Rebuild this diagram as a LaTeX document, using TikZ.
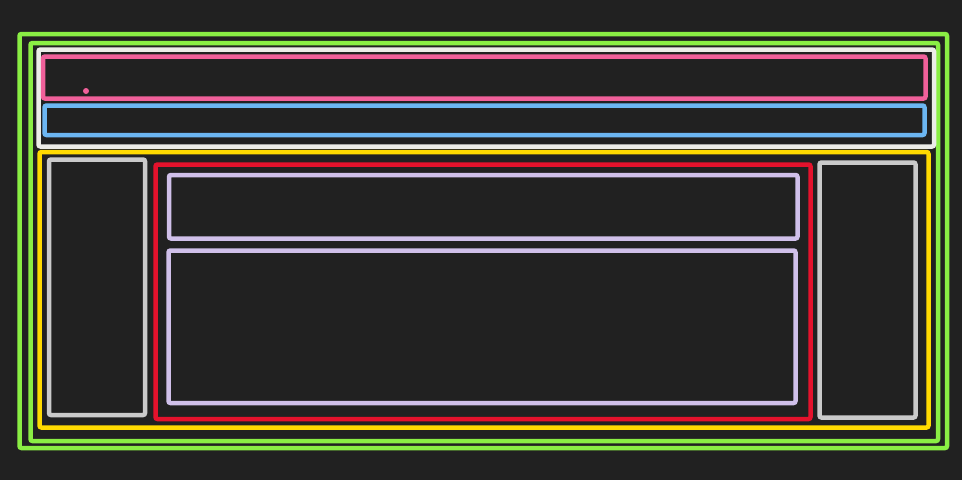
\documentclass[tikz,border=0pt]{standalone}
\usepackage{xcolor}
\usepackage{tikz}
\usetikzlibrary{positioning}
\definecolor{canvas}{HTML}{212121}
\definecolor{lime}{HTML}{8AEE44}
\definecolor{chalk}{HTML}{ECECE8}
\definecolor{rose}{HTML}{F0609A}
\definecolor{sky}{HTML}{6CB6F2}
\definecolor{gold}{HTML}{FFDA00}
\definecolor{ash}{HTML}{CACACA}
\definecolor{scarlet}{HTML}{E4122C}
\definecolor{lilac}{HTML}{D0C0EA}
\tikzset{
    frame/.style={rectangle, draw=#1, line width=4.5pt, rounded corners=2pt, inner sep=0pt, outer sep=0pt},
    pin/.style={circle, fill=rose, minimum size=6pt, inner sep=0pt}
}
\begin{document}
\begin{tikzpicture}[x=1pt, y=-1pt]

\fill[canvas] (0,0) rectangle (962,480);

% outer shell
\node[frame=lime, minimum width=927.5pt, minimum height=414pt] (shell) at (483.25,241) {};
\node[frame=lime, minimum width=907.5pt, minimum height=398pt] (page) at (484.25,242) {};

% header band
\node[frame=chalk, minimum width=895.5pt, minimum height=97pt] (header) at (486.25,98) {};
\node[frame=rose, minimum width=882.5pt, minimum height=42pt] (topbar) at (484.25,77.5) {};
\node[pin] (dot) at (86,91) {};
\node[frame=sky, minimum width=880pt, minimum height=29.5pt] (navbar) at (484.5,120.25) {};

% body band
\node[frame=gold, minimum width=889pt, minimum height=275.5pt] (body) at (484,289.75) {};
\node[frame=ash, minimum width=96pt, minimum height=255.5pt] (leftbar) at (97,287.25) {};
\node[frame=ash, minimum width=96pt, minimum height=255pt] (rightbar) at (867.5,290) {};
\node[frame=scarlet, minimum width=655pt, minimum height=254.5pt] (main) at (483,291.75) {};
\node[frame=lilac, minimum width=628.5pt, minimum height=63.5pt] (banner) at (483.25,206.75) {};
\node[frame=lilac, minimum width=627pt, minimum height=152.5pt] (content) at (482,326.75) {};

\end{tikzpicture}
\end{document}
